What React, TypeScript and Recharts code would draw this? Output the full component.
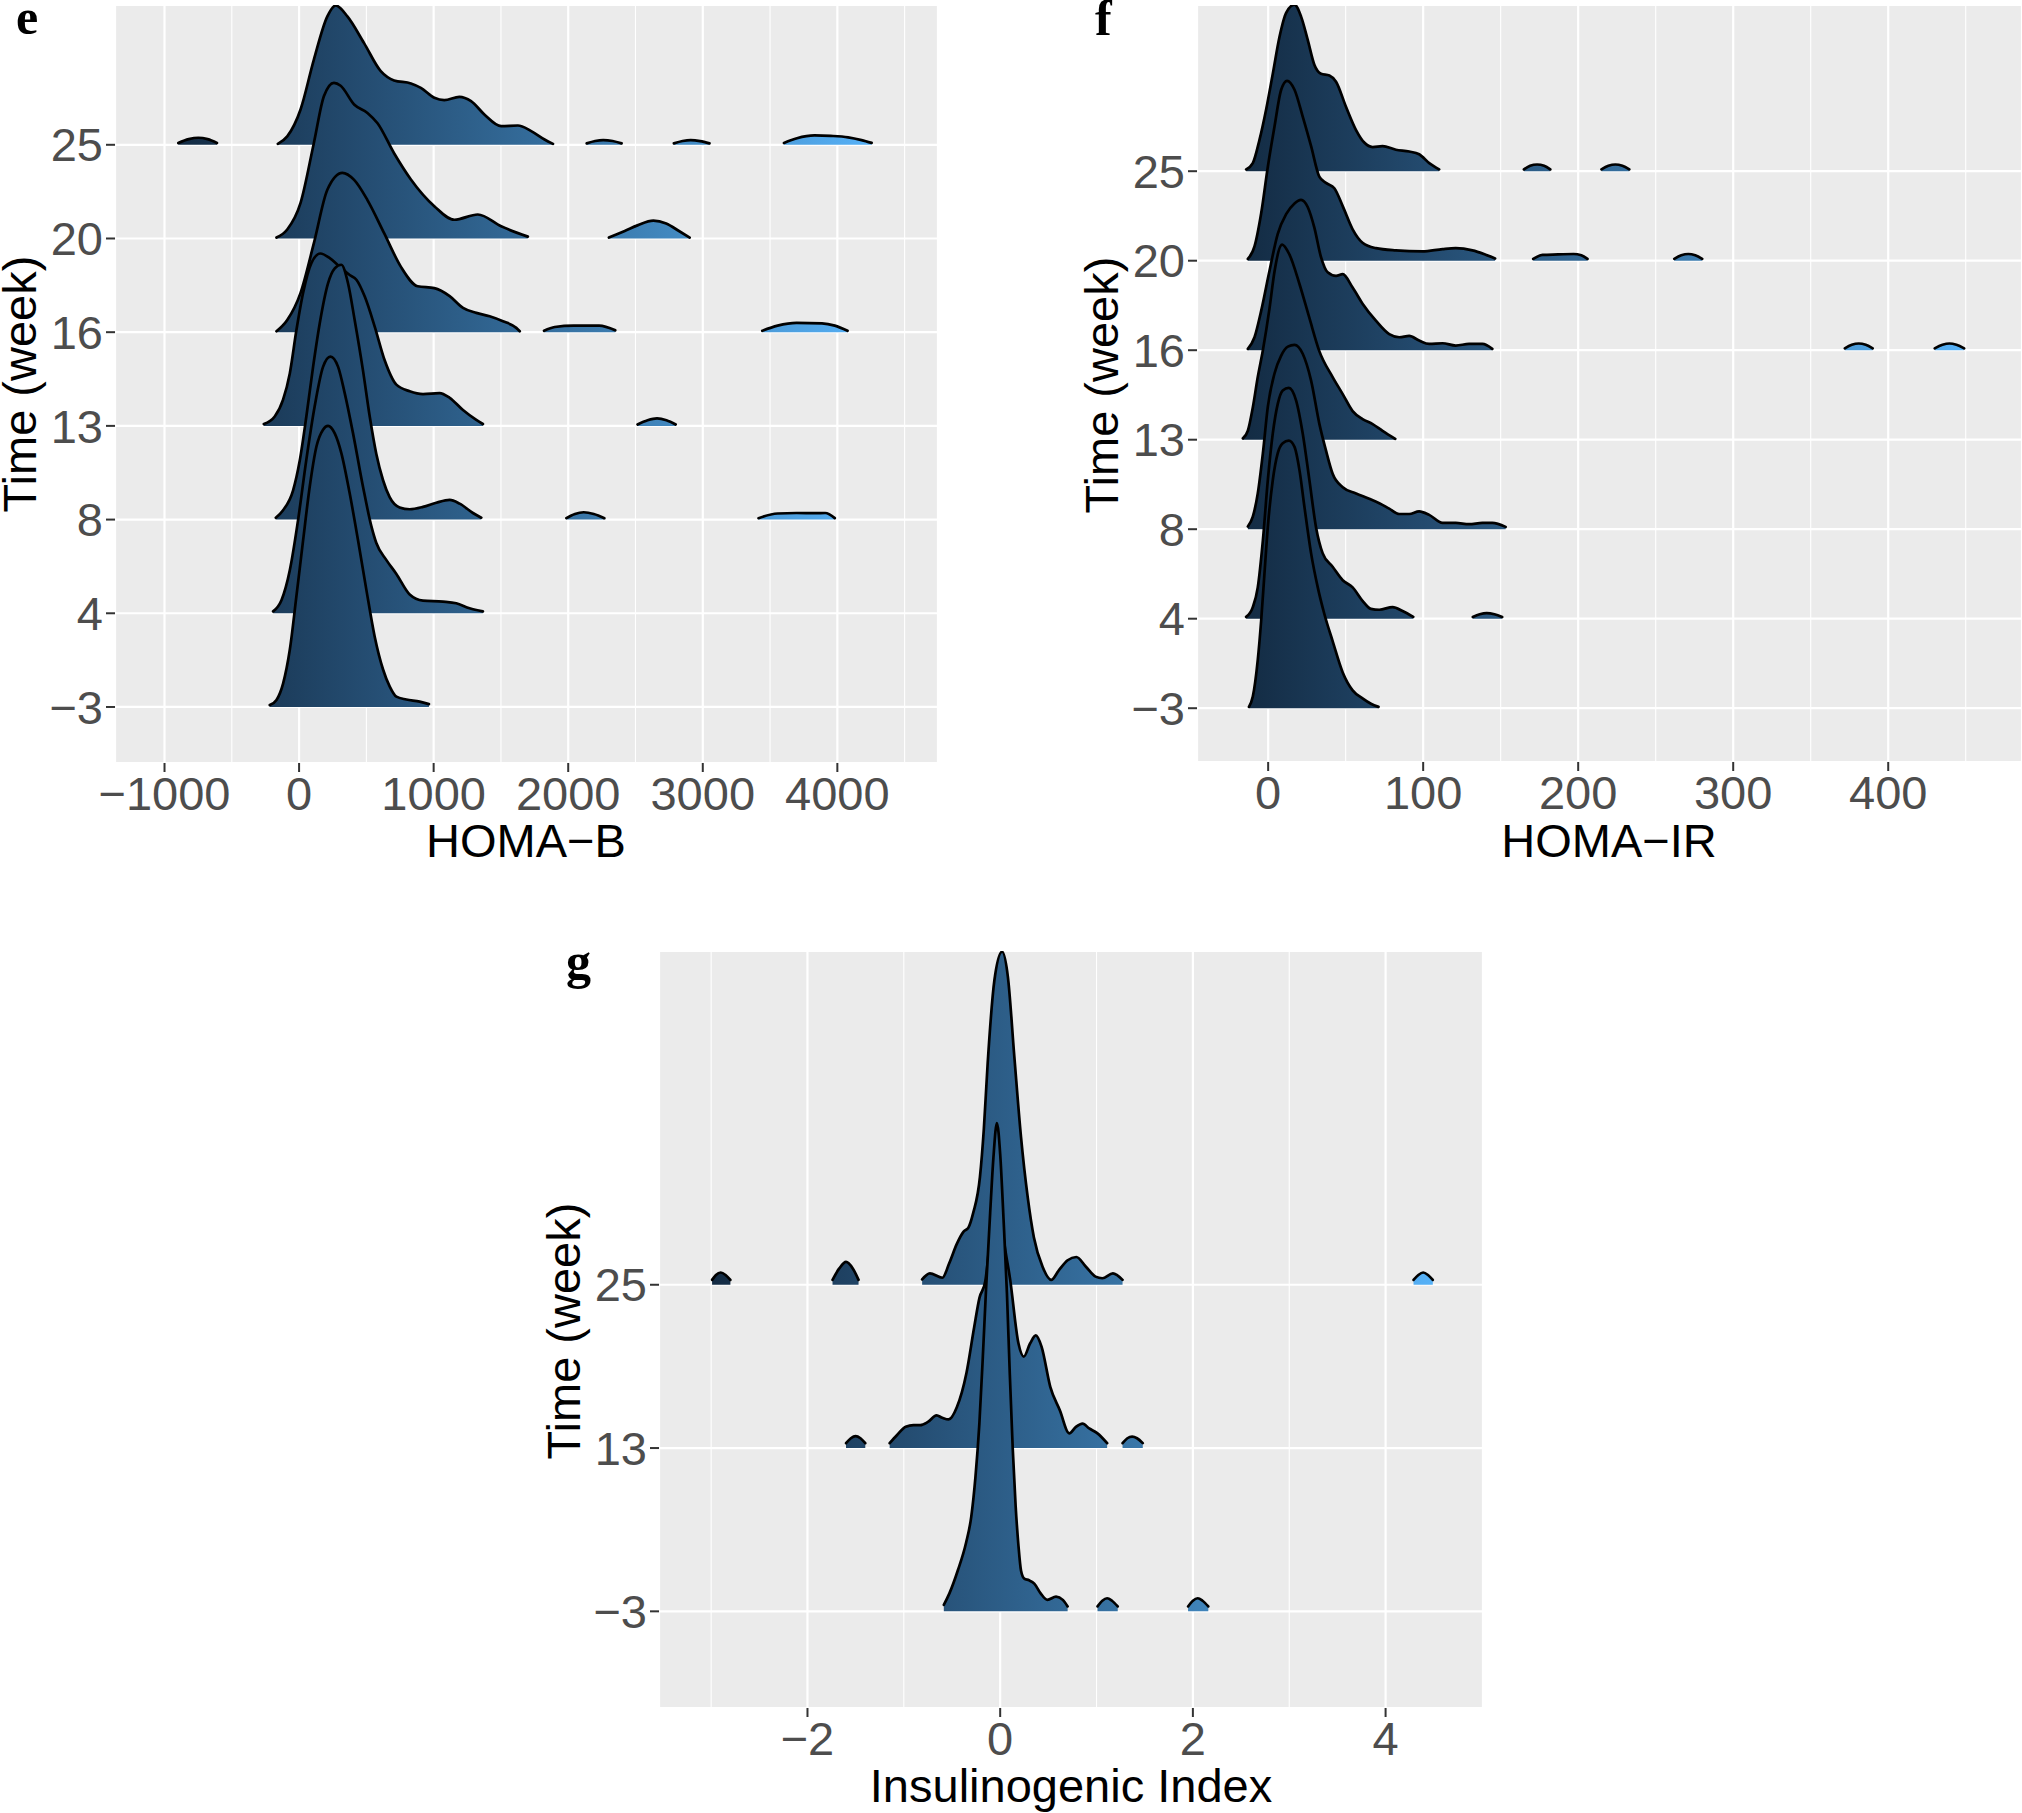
import React from 'react';
import { ComposedChart, Area, XAxis, YAxis, CartesianGrid } from 'recharts';

type Seg = [number, number][];

// ---------- panel e : HOMA-B ----------
const homaBWeeks = ['-3', '4', '8', '13', '16', '20', '25'];
const homaBTicks = [-1000, 0, 1000, 2000, 3000, 4000];
const homaBMinor = [-500, 500, 1500, 2500, 3500, 4500];

const homaBm3: Seg[] = [
  [[-218, 0.02], [-168, 0.075], [-119, 0.25], [-69, 0.61], [-20, 1.18], [30, 1.78], [79, 2.35], [129, 2.78], [178, 2.96], [215, 3.0], [265, 2.92], [314, 2.71], [376, 2.28], [438, 1.78], [500, 1.25], [562, 0.75], [624, 0.4], [673, 0.22], [723, 0.11], [797, 0.08], [896, 0.057], [965, 0.03]],
];
const homaB4: Seg[] = [
  [[-193, 0.02], [-131, 0.14], [-69, 0.46], [-7, 1.0], [54, 1.64], [116, 2.21], [178, 2.63], [233, 2.74], [290, 2.63], [339, 2.35], [401, 1.92], [475, 1.35], [537, 0.93], [574, 0.75], [648, 0.57], [723, 0.42], [822, 0.2], [921, 0.135], [1069, 0.125], [1168, 0.107], [1267, 0.053], [1366, 0.02]],
];
const homaB8: Seg[] = [
  [[-173, 0.02], [-119, 0.1], [-45, 0.31], [5, 0.63], [54, 1.1], [104, 1.63], [153, 2.09], [215, 2.52], [265, 2.68], [314, 2.72], [364, 2.52], [413, 2.13], [475, 1.59], [525, 1.1], [574, 0.7], [624, 0.42], [673, 0.24], [747, 0.13], [822, 0.11], [921, 0.135], [1020, 0.18], [1119, 0.21], [1193, 0.17], [1292, 0.07], [1354, 0.02]],
  [[1986, 0.015], [2050, 0.06], [2115, 0.078], [2190, 0.06], [2269, 0.015]],
  [[3414, 0.015], [3556, 0.065], [3697, 0.07], [3839, 0.068], [3910, 0.07], [3981, 0.015]],
];
const homaB13: Seg[] = [
  [[-262, 0.02], [-181, 0.1], [-119, 0.28], [-69, 0.56], [-20, 1.02], [30, 1.42], [92, 1.74], [158, 1.84], [228, 1.79], [302, 1.7], [376, 1.61], [426, 1.56], [488, 1.38], [562, 1.06], [636, 0.7], [723, 0.44], [822, 0.37], [921, 0.34], [1044, 0.35], [1119, 0.3], [1218, 0.17], [1317, 0.064], [1366, 0.02]],
  [[2515, 0.015], [2590, 0.06], [2660, 0.08], [2730, 0.06], [2799, 0.015]],
];
const homaB16: Seg[] = [
  [[-168, 0.01], [-88, 0.13], [11, 0.42], [110, 0.95], [210, 1.52], [322, 1.7], [409, 1.625], [508, 1.41], [632, 1.057], [756, 0.7], [881, 0.49], [1005, 0.47], [1119, 0.385], [1218, 0.26], [1317, 0.206], [1416, 0.17], [1515, 0.117], [1614, 0.046], [1640, 0.01]],
  [[1820, 0.015], [1900, 0.055], [2040, 0.07], [2230, 0.07], [2350, 0.02]],
  [[3442, 0.015], [3556, 0.07], [3697, 0.1], [3886, 0.095], [3981, 0.07], [4076, 0.015]],
];
const homaB20: Seg[] = [
  [[-168, 0.01], [-88, 0.096], [11, 0.38], [110, 1.02], [185, 1.52], [259, 1.66], [309, 1.63], [409, 1.43], [508, 1.34], [583, 1.23], [706, 0.91], [831, 0.63], [1005, 0.345], [1154, 0.2], [1328, 0.256], [1502, 0.13], [1700, 0.02]],
  [[2302, 0.01], [2420, 0.08], [2515, 0.14], [2633, 0.19], [2728, 0.16], [2823, 0.08], [2903, 0.01]],
];
const homaB25: Seg[] = [
  [[-898, 0.02], [-820, 0.06], [-749, 0.075], [-680, 0.06], [-610, 0.02]],
  [[-158, 0.01], [-88, 0.09], [11, 0.377], [110, 0.91], [210, 1.37], [272, 1.487], [359, 1.37], [483, 1.085], [607, 0.786], [706, 0.687], [831, 0.655], [905, 0.608], [1005, 0.502], [1079, 0.477], [1191, 0.512], [1278, 0.466], [1377, 0.324], [1502, 0.199], [1626, 0.206], [1725, 0.146], [1824, 0.057], [1887, 0.01]],
  [[2137, 0.015], [2200, 0.04], [2260, 0.05], [2330, 0.04], [2397, 0.015]],
  [[2785, 0.015], [2850, 0.04], [2910, 0.05], [2980, 0.04], [3050, 0.015]],
  [[3603, 0.02], [3700, 0.07], [3830, 0.1], [3950, 0.095], [4080, 0.08], [4180, 0.05], [4255, 0.02]],
];

// ---------- panel f : HOMA-IR ----------
const homaIRWeeks = ['-3', '4', '8', '13', '16', '20', '25'];
const homaIRTicks = [0, 100, 200, 300, 400];
const homaIRMinor = [50, 150, 250, 350, 450];

const homaIRm3: Seg[] = [
  [[-12.4, 0.015], [-9.9, 0.13], [-6.7, 0.54], [-4.5, 0.98], [-2.4, 1.5], [-0.2, 2.03], [3, 2.55], [6.2, 2.85], [9.4, 2.96], [13.3, 2.99], [17, 2.92], [20.2, 2.66], [23.4, 2.25], [27.7, 1.73], [32, 1.35], [36.3, 1.05], [41.6, 0.75], [48.1, 0.4], [54.5, 0.2], [60.9, 0.11], [66.3, 0.05], [71.2, 0.015]],
];
const homaIR4: Seg[] = [
  [[-14.2, 0.02], [-9.9, 0.13], [-6.7, 0.35], [-3.4, 0.875], [-0.2, 1.55], [3, 2.07], [6.2, 2.4], [9.4, 2.55], [13.3, 2.58], [18, 2.44], [22.3, 2.07], [26.6, 1.55], [30.9, 1.02], [35.2, 0.73], [41.6, 0.58], [48.1, 0.43], [54.5, 0.35], [60.9, 0.2], [66.3, 0.11], [71.7, 0.1], [80.3, 0.13], [86.7, 0.086], [93.6, 0.02]],
  [[132, 0.02], [136.5, 0.05], [141, 0.063], [146, 0.05], [151, 0.02]],
];
const homaIR8: Seg[] = [
  [[-13.1, 0.03], [-9.9, 0.14], [-6.7, 0.4], [-3.4, 0.85], [-0.2, 1.37], [4.1, 1.74], [8.4, 1.94], [12.7, 2.04], [17, 2.06], [22.3, 1.96], [27.7, 1.66], [33, 1.18], [37.3, 0.88], [41.6, 0.62], [48.1, 0.47], [56.7, 0.4], [65.2, 0.34], [71.7, 0.29], [78.1, 0.23], [84.6, 0.17], [91, 0.17], [97.4, 0.2], [103.9, 0.16], [112.5, 0.07], [121, 0.07], [129.6, 0.056], [138.2, 0.07], [144.6, 0.07], [153.2, 0.026]],
];
const homaIR13: Seg[] = [
  [[-16.3, 0.015], [-13.1, 0.1], [-9.9, 0.36], [-6.7, 0.7], [-3.4, 1.0], [0.9, 1.47], [4.1, 1.88], [9, 2.18], [13.7, 2.07], [20.2, 1.74], [26.6, 1.36], [33, 0.99], [41.6, 0.7], [48.1, 0.51], [54.5, 0.32], [60.9, 0.23], [67.4, 0.175], [73.8, 0.1], [82, 0.01]],
];
const homaIR16: Seg[] = [
  [[-13.1, 0.015], [-8.8, 0.145], [-4.5, 0.44], [0.9, 0.89], [6.2, 1.3], [11.6, 1.52], [17, 1.64], [21.2, 1.68], [25.5, 1.6], [29.8, 1.37], [34.1, 1.04], [38.4, 0.87], [43.8, 0.83], [48.1, 0.85], [54.5, 0.7], [60.9, 0.52], [69.5, 0.33], [78.1, 0.18], [84.6, 0.145], [91, 0.16], [97.4, 0.108], [103.9, 0.07], [112.5, 0.078], [121, 0.052], [129.6, 0.07], [138.2, 0.07], [144.6, 0.015]],
  [[372, 0.02], [376.5, 0.06], [381, 0.075], [385.5, 0.06], [390, 0.02]],
  [[430, 0.02], [435, 0.06], [439.5, 0.075], [444, 0.06], [449, 0.02]],
];
const homaIR20: Seg[] = [
  [[-13.1, 0.02], [-8.8, 0.16], [-4.5, 0.53], [-0.2, 1.05], [4.1, 1.5], [8.4, 1.91], [12.2, 2.01], [17, 1.91], [22.3, 1.61], [27.7, 1.28], [33, 0.94], [37.3, 0.87], [42.7, 0.81], [48.1, 0.61], [54.5, 0.35], [60.9, 0.2], [69.5, 0.14], [82.4, 0.115], [99.6, 0.104], [112.5, 0.13], [121, 0.14], [131.8, 0.115], [140.3, 0.067], [146.4, 0.026]],
  [[171, 0.02], [177, 0.065], [187, 0.07], [197, 0.075], [202, 0.06], [206, 0.02]],
  [[262, 0.02], [266.5, 0.06], [271, 0.075], [275.5, 0.06], [280, 0.02]],
];
const homaIR25: Seg[] = [
  [[-14.2, 0.02], [-9.9, 0.09], [-5.6, 0.35], [-1.3, 0.69], [3, 1.09], [7.3, 1.5], [11.6, 1.77], [17, 1.86], [21.2, 1.73], [25.5, 1.47], [29.8, 1.19], [34.1, 1.09], [39.5, 1.07], [43.8, 1.0], [50.2, 0.72], [56.7, 0.46], [62, 0.32], [67.4, 0.27], [73.8, 0.28], [82.4, 0.24], [91, 0.22], [97.4, 0.19], [103.9, 0.09], [110.3, 0.02]],
  [[165, 0.02], [169, 0.06], [173.5, 0.075], [178, 0.06], [182, 0.02]],
  [[215, 0.02], [219.5, 0.06], [224, 0.075], [228.5, 0.06], [233, 0.02]],
];

// ---------- panel g : Insulinogenic Index ----------
const iiWeeks = ['-3', '13', '25'];
const iiTicks = [-2, 0, 2, 4];
const iiMinor = [-3, -1, 1, 3];

const iim3: Seg[] = [
  [[-0.585, 0.04], [-0.527, 0.11], [-0.44, 0.25], [-0.354, 0.42], [-0.3, 0.58], [-0.257, 0.82], [-0.216, 1.15], [-0.18, 1.56], [-0.147, 1.97], [-0.104, 2.44], [-0.07, 2.78], [-0.034, 2.99], [0, 2.8], [0.035, 2.4], [0.07, 1.95], [0.1, 1.45], [0.13, 1.0], [0.16, 0.65], [0.19, 0.4], [0.216, 0.25], [0.25, 0.2], [0.3, 0.19], [0.354, 0.17], [0.42, 0.11], [0.49, 0.07], [0.58, 0.09], [0.65, 0.07], [0.7, 0.03]],
  [[1.01, 0.03], [1.06, 0.065], [1.11, 0.08], [1.16, 0.065], [1.22, 0.03]],
  [[1.95, 0.03], [2.0, 0.065], [2.05, 0.08], [2.1, 0.065], [2.16, 0.03]],
];
const ii13: Seg[] = [
  [[-1.6, 0.03], [-1.55, 0.06], [-1.5, 0.073], [-1.45, 0.06], [-1.4, 0.03]],
  [[-1.147, 0.03], [-1.07, 0.08], [-0.98, 0.13], [-0.9, 0.14], [-0.83, 0.14], [-0.75, 0.16], [-0.66, 0.2], [-0.6, 0.185], [-0.535, 0.175], [-0.45, 0.25], [-0.35, 0.46], [-0.27, 0.74], [-0.215, 0.92], [-0.155, 1.02], [-0.1, 1.3], [-0.04, 1.5], [0, 1.48], [0.035, 1.29], [0.104, 1.03], [0.19, 0.64], [0.245, 0.56], [0.31, 0.64], [0.37, 0.69], [0.43, 0.62], [0.52, 0.375], [0.62, 0.23], [0.717, 0.09], [0.786, 0.13], [0.855, 0.15], [0.924, 0.12], [1.01, 0.09], [1.11, 0.03]],
  [[1.27, 0.03], [1.32, 0.06], [1.37, 0.07], [1.42, 0.06], [1.48, 0.03]],
];
const ii25: Seg[] = [
  [[-2.99, 0.03], [-2.95, 0.06], [-2.9, 0.075], [-2.85, 0.06], [-2.8, 0.03]],
  [[-1.74, 0.03], [-1.67, 0.1], [-1.6, 0.14], [-1.53, 0.1], [-1.47, 0.03]],
  [[-0.81, 0.033], [-0.73, 0.07], [-0.6, 0.043], [-0.53, 0.13], [-0.45, 0.25], [-0.38, 0.325], [-0.33, 0.35], [-0.28, 0.44], [-0.21, 0.66], [-0.17, 0.95], [-0.13, 1.355], [-0.06, 1.865], [0.02, 2.04], [0.08, 1.886], [0.147, 1.396], [0.216, 0.906], [0.285, 0.54], [0.35, 0.29], [0.44, 0.11], [0.53, 0.03], [0.61, 0.09], [0.7, 0.15], [0.79, 0.17], [0.89, 0.11], [0.99, 0.05], [1.06, 0.04], [1.17, 0.07], [1.27, 0.03]],
  [[4.29, 0.03], [4.34, 0.06], [4.39, 0.075], [4.44, 0.06], [4.49, 0.03]],
];

// ggplot default continuous fill (#132B43 -> #56B1F7)
const gradStops = ['#132B43', '#234A6E', '#336A98', '#448DC6', '#56B1F7'];

const Y_W = 115;
const X_H = 60;
const sans = 'Liberation Sans, Arial, Helvetica, sans-serif';
const minus = (v: any) => String(v).replace('-', '\u2212');

interface PanelProps {
  id: string;
  width: number;
  height: number;
  xDomain: [number, number];
  yDomain: [number, number];
  xTicks: number[];
  xMinor: number[];
  weeks: string[];
  ridges: Seg[][];
  fillRange: [number, number];
}

const RidgePanel = ({ id, width, height, xDomain, yDomain, xTicks, xMinor, weeks, ridges, fillRange }: PanelProps) => {
  const plotW = width - Y_W;
  const toPx = (v: number) => Y_W + ((v - xDomain[0]) / (xDomain[1] - xDomain[0])) * plotW;

  const minorGrid = (props: any) => {
    const scale = props && props.xAxis && props.xAxis.scale;
    if (typeof scale === 'function') {
      const out = xMinor.map((v) => scale(v));
      if (out.every((p: any) => Number.isFinite(p))) return out;
    }
    return xMinor.map(toPx);
  };

  // top ridge first so lower weeks overlap it
  const series: { key: string; base: number; data: { x: number; top: number }[] }[] = [];
  for (let i = ridges.length - 1; i >= 0; i--) {
    ridges[i].forEach((seg, j) => {
      series.push({ key: `${id}-${i}-${j}`, base: i, data: seg.map(([x, h]) => ({ x, top: i + h })) });
    });
  }

  const tickStyle = { fill: '#4D4D4D', fontSize: 47, fontFamily: sans };

  return (
    <ComposedChart width={width} height={height} margin={{ top: 5, right: 0, bottom: 0, left: 0 }}>
      <defs>
        <linearGradient id={id} gradientUnits="userSpaceOnUse" x1={toPx(fillRange[0])} y1={0} x2={toPx(fillRange[1])} y2={0}>
          {gradStops.map((c, k) => (
            <stop key={k} offset={k / (gradStops.length - 1)} stopColor={c} />
          ))}
        </linearGradient>
      </defs>
      <CartesianGrid fill="#EBEBEB" stroke="#FFFFFF" strokeWidth={1.1} horizontal={false} verticalCoordinatesGenerator={minorGrid} />
      <CartesianGrid stroke="#FFFFFF" strokeWidth={2.2} />
      <XAxis
        type="number"
        dataKey="x"
        domain={xDomain}
        ticks={xTicks}
        allowDataOverflow
        interval={0}
        tickFormatter={minus}
        tick={tickStyle}
        tickLine={{ stroke: '#333333', strokeWidth: 2 }}
        tickSize={9}
        tickMargin={5}
        axisLine={false}
        height={X_H}
      />
      <YAxis
        type="number"
        domain={yDomain}
        ticks={weeks.map((_, i) => i)}
        allowDataOverflow
        interval={0}
        tickFormatter={(v: number) => minus(weeks[Math.round(v)])}
        tick={tickStyle}
        tickLine={{ stroke: '#333333', strokeWidth: 2 }}
        tickSize={9}
        tickMargin={3}
        axisLine={false}
        width={Y_W}
      />
      {series.map((s) => (
        <Area
          key={s.key}
          data={s.data}
          dataKey="top"
          baseValue={s.base}
          type="monotone"
          fill={`url(#${id})`}
          fillOpacity={1}
          stroke="#000000"
          strokeWidth={2.7}
          strokeLinejoin="round"
          strokeLinecap="round"
          dot={false}
          activeDot={false}
          isAnimationActive={false}
        />
      ))}
    </ComposedChart>
  );
};

const titleStyle: React.CSSProperties = {
  position: 'absolute',
  fontFamily: sans,
  fontSize: 47,
  lineHeight: '30px',
  color: '#000000',
  whiteSpace: 'nowrap',
};

const letterStyle: React.CSSProperties = {
  position: 'absolute',
  fontFamily: 'Liberation Serif, Times New Roman, serif',
  fontWeight: 'bold',
  fontSize: 50,
  lineHeight: '34px',
  color: '#000000',
};

// with a 30px line box the baseline sits ~31px below the box top
const XTitle = ({ cx, baseline, text }: { cx: number; baseline: number; text: string }) => (
  <div style={{ ...titleStyle, left: cx, top: baseline - 31, transform: 'translateX(-50%)' }}>{text}</div>
);

const YTitle = ({ cx, cy, text }: { cx: number; cy: number; text: string }) => (
  <div style={{ ...titleStyle, left: cx, top: cy, transform: 'translate(-50%, -50%) rotate(-90deg)' }}>{text}</div>
);

export default function App() {
  return (
    <div style={{ position: 'fixed', left: 0, top: 0, width: 2022, height: 1813, background: '#FFFFFF', overflow: 'hidden' }}>
      <div style={{ position: 'absolute', left: 0, top: 0 }}>
        <RidgePanel
          id="fillE"
          width={938}
          height={823}
          xDomain={[-1368, 4748]}
          yDomain={[-0.598, 7.492]}
          xTicks={homaBTicks}
          xMinor={homaBMinor}
          weeks={homaBWeeks}
          ridges={[homaBm3, homaB4, homaB8, homaB13, homaB16, homaB20, homaB25]}
          fillRange={[-898, 4255]}
        />
      </div>
      <div style={{ position: 'absolute', left: 1082, top: 0 }}>
        <RidgePanel
          id="fillF"
          width={940}
          height={822}
          xDomain={[-45.9, 486.3]}
          yDomain={[-0.601, 7.857]}
          xTicks={homaIRTicks}
          xMinor={homaIRMinor}
          weeks={homaIRWeeks}
          ridges={[homaIRm3, homaIR4, homaIR8, homaIR13, homaIR16, homaIR20, homaIR25]}
          fillRange={[-16.3, 449]}
        />
      </div>
      <div style={{ position: 'absolute', left: 544, top: 946 }}>
        <RidgePanel
          id="fillG"
          width={939}
          height={822}
          xDomain={[-3.541, 5.011]}
          yDomain={[-0.592, 4.044]}
          xTicks={iiTicks}
          xMinor={iiMinor}
          weeks={iiWeeks}
          ridges={[iim3, ii13, ii25]}
          fillRange={[-2.99, 4.49]}
        />
      </div>

      <XTitle cx={526} baseline={857} text={'HOMA\u2212B'} />
      <XTitle cx={1609} baseline={857} text={'HOMA\u2212IR'} />
      <XTitle cx={1071} baseline={1802} text="Insulinogenic Index" />

      <YTitle cx={19.5} cy={384} text="Time (week)" />
      <YTitle cx={1102} cy={385} text="Time (week)" />
      <YTitle cx={564} cy={1331} text="Time (week)" />

      <div style={{ ...letterStyle, left: 16, top: 0 }}>e</div>
      <div style={{ ...letterStyle, left: 1095, top: 1 }}>f</div>
      <div style={{ ...letterStyle, left: 566, top: 944 }}>g</div>
    </div>
  );
}
